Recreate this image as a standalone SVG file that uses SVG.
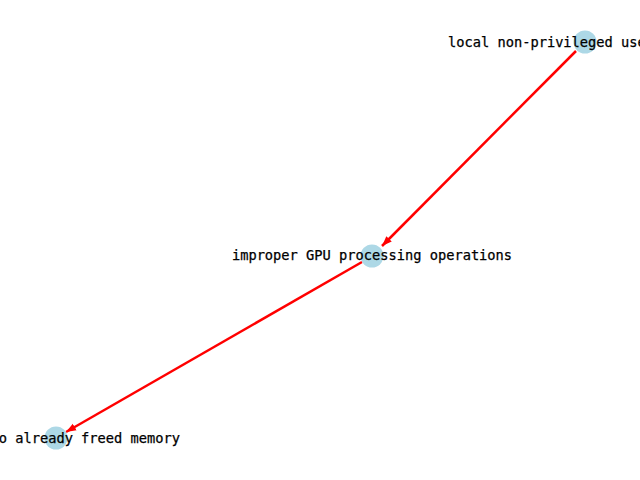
<svg xmlns="http://www.w3.org/2000/svg" width="640" height="480" viewBox="0 0 640 480">
<style>
.node circle{fill:#add8e6;}
.lbl{font-family:"DejaVu Sans Mono","Liberation Mono",monospace;font-size:13.7px;fill:#000;stroke:#000;stroke-width:0.25;dominant-baseline:central;}
.edge{stroke:#ff0000;stroke-width:2.5;fill:none;}
</style>
<defs>
<marker id="ah" viewBox="0 0 10 10" refX="10" refY="5" markerWidth="4" markerHeight="4" orient="auto" markerUnits="strokeWidth">
<path d="M0,1.2 L10,5 L0,8.8 Z" fill="#ff0000"/>
</marker>
</defs>
<rect width="640" height="480" fill="#ffffff"/>
<g id="connectors">
<line class="edge" x1="576" y1="51" x2="382" y2="246" marker-end="url(#ah)"/>
<line class="edge" x1="362" y1="262" x2="66" y2="432" marker-end="url(#ah)"/>
</g>
<g id="node-user" class="node">
<circle cx="585" cy="42" r="11.5"/>
<text class="lbl" x="448" y="42">local non-privileged use</text>
</g>
<g id="node-gpu" class="node">
<circle cx="372" cy="256" r="11.5"/>
<text class="lbl" x="372" y="255" text-anchor="middle">improper GPU processing operations</text>
</g>
<g id="node-memory" class="node">
<circle cx="56" cy="438" r="11.5"/>
<text class="lbl" x="180" y="438" text-anchor="end">o already freed memory</text>
</g>
</svg>
